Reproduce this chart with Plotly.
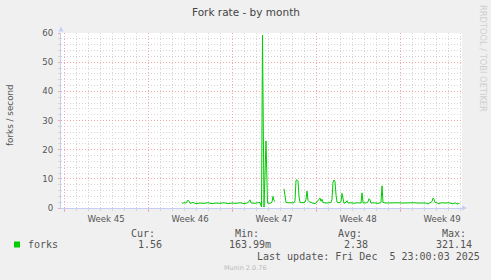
import plotly.graph_objects as go

# ---- data ----
times = [
    "2025-11-12 20:00", "2025-11-13 00:00", "2025-11-13 04:00", "2025-11-13 08:00", "2025-11-13 10:00",
    "2025-11-13 12:00", "2025-11-13 18:00", "2025-11-14 00:00", "2025-11-14 08:00", "2025-11-14 16:00",
    "2025-11-15 00:00", "2025-11-15 08:00", "2025-11-15 16:00", "2025-11-16 00:00", "2025-11-16 08:00",
    "2025-11-16 16:00", "2025-11-17 00:00", "2025-11-17 08:00", "2025-11-17 16:00", "2025-11-18 00:00",
    "2025-11-18 06:00", "2025-11-18 10:00", "2025-11-18 12:00", "2025-11-18 14:00", "2025-11-18 20:00",
    "2025-11-19 02:00", "2025-11-19 08:00", "2025-11-19 11:00", "2025-11-19 13:00", "2025-11-19 16:00",
    "2025-11-19 20:00", "2025-11-19 23:00", "2025-11-20 04:00", "2025-11-20 08:00", "2025-11-20 10:00",
    "2025-11-20 12:00", "2025-11-20 14:00", "2025-11-20 20:00",
    "2025-11-21 08:00", "2025-11-21 12:00", "2025-11-21 16:00", "2025-11-21 22:00", "2025-11-22 04:00",
    "2025-11-22 06:00", "2025-11-22 08:00", "2025-11-22 10:00", "2025-11-22 12:00", "2025-11-22 14:00",
    "2025-11-22 16:00", "2025-11-22 22:00", "2025-11-23 02:00", "2025-11-23 04:00", "2025-11-23 06:00",
    "2025-11-23 08:00", "2025-11-23 10:00", "2025-11-23 14:00", "2025-11-23 20:00", "2025-11-24 00:00",
    "2025-11-24 04:00", "2025-11-24 06:00", "2025-11-24 08:00", "2025-11-24 10:00", "2025-11-24 12:00",
    "2025-11-24 14:00", "2025-11-24 20:00", "2025-11-25 02:00", "2025-11-25 06:00", "2025-11-25 08:00",
    "2025-11-25 10:00", "2025-11-25 12:00", "2025-11-25 14:00", "2025-11-25 16:00", "2025-11-25 18:00",
    "2025-11-25 22:00", "2025-11-26 02:00", "2025-11-26 04:00", "2025-11-26 06:00", "2025-11-26 08:00",
    "2025-11-26 12:00", "2025-11-26 14:00", "2025-11-26 16:00", "2025-11-26 22:00", "2025-11-27 04:00",
    "2025-11-27 10:00", "2025-11-27 18:00", "2025-11-27 20:00", "2025-11-27 22:00", "2025-11-28 04:00",
    "2025-11-28 08:00", "2025-11-28 10:00", "2025-11-28 12:00", "2025-11-28 14:00", "2025-11-28 20:00",
    "2025-11-29 02:00", "2025-11-29 08:00", "2025-11-29 10:00", "2025-11-29 12:00", "2025-11-29 14:00",
    "2025-11-29 20:00", "2025-11-30 04:00", "2025-11-30 12:00", "2025-11-30 20:00", "2025-12-01 04:00",
    "2025-12-01 12:00", "2025-12-01 20:00", "2025-12-02 04:00", "2025-12-02 12:00", "2025-12-02 20:00",
    "2025-12-03 04:00", "2025-12-03 08:00", "2025-12-03 12:00", "2025-12-03 16:00", "2025-12-03 18:00",
    "2025-12-03 20:00", "2025-12-03 22:00", "2025-12-04 02:00", "2025-12-04 06:00", "2025-12-04 10:00",
    "2025-12-04 18:00", "2025-12-05 02:00", "2025-12-05 10:00", "2025-12-05 14:00", "2025-12-05 18:00",
    "2025-12-05 23:00",
]
forks = [
    1.6, 1.8, 1.7, 2.7, 2.3,
    1.6, 1.9, 1.5, 1.7, 1.6,
    1.8, 1.5, 1.7, 1.6, 1.8,
    1.5, 1.7, 1.6, 1.8, 1.5,
    1.7, 2.2, 2.8, 1.8, 1.6,
    1.7, 1.9, 0.4, 59.3, 0.3,
    23.0, 1.7, 1.6, 2.0, 4.0,
    2.6, 2.3, None,
    6.6, 1.9, 1.8, 1.9, 1.8,
    2.5, 9.5, 9.7, 9.3, 4.0,
    1.9, 1.8, 2.0, 3.0, 5.8,
    2.6, 2.2, 1.9, 1.5, 1.7,
    2.4, 2.8, 3.4, 2.3, 3.0,
    1.9, 1.7, 1.8, 1.9, 3.0,
    8.8, 9.6, 9.0, 4.5, 2.0,
    1.8, 2.2, 5.0, 2.3, 1.6,
    2.0, 2.5, 1.7, 1.8, 1.6,
    1.8, 1.7, 5.2, 1.8, 1.7,
    2.1, 3.2, 2.8, 1.7, 1.8,
    1.6, 1.7, 1.9, 7.6, 1.9,
    1.7, 1.8, 1.7, 1.8, 1.7,
    1.8, 1.7, 1.8, 1.7, 1.8,
    1.7, 1.4, 1.8, 2.2, 3.4,
    3.0, 1.9, 1.8, 1.4, 1.8,
    1.7, 1.8, 1.4, 1.8, 1.4,
    1.56,
]
x_range = ["2025-11-02 18:00", "2025-12-06 04:00"]
week_tick0 = "2025-11-03"
y_range = [0, 60]
title_text = "Fork rate - by month"
y_label = "forks / second"
series_name = "forks"
legend_headers = ["Cur:", "Min:", "Avg:", "Max:"]
legend_values = ["1.56", "163.99m", "2.38", "321.14"]
last_update = "Last update: Fri Dec&nbsp;&nbsp;5 23:00:03 2025"
footer = "Munin 2.0.76"
watermark = "RRDTOOL / TOBI OETIKER"

# ---- layout geometry (pixels) ----
W, H = 491, 280
L, R, T, B = 61, 462, 33, 208
def px(x): return (x - L) / (R - L)
def py(y): return (B - y) / (B - T)

GREEN = "#00cc00"
AXIS = "#c8cdf6"
GRID = "#d6d6d6"
MGRID = "#f2a8a8"
TXT = "#555555"
SANS = "DejaVu Sans"
MONO = "DejaVu Sans Mono"
DAY = 86400000

fig = go.Figure()
fig.add_trace(go.Scatter(x=times, y=forks, mode="lines", connectgaps=False,
                         line=dict(color=GREEN, width=1), hoverinfo="skip", showlegend=False))

fig.update_layout(
    width=W, height=H, margin=dict(l=L, r=W - R, t=T, b=H - B),
    paper_bgcolor="#f0f0f0", plot_bgcolor="#ffffff", showlegend=False,
    xaxis=dict(type="date", range=x_range, tick0=week_tick0, dtick=7 * DAY,
               tickformat="Week %V", ticklabelmode="period",
               showgrid=True, gridcolor=MGRID, griddash="1px,2px", gridwidth=1,
               ticks="outside", ticklen=3, tickcolor=MGRID,
               minor=dict(dtick=DAY, tick0=week_tick0, showgrid=True, gridcolor=GRID,
                          griddash="1px,2px", ticks="outside", ticklen=2, tickcolor=GRID),
               showline=True, linecolor=AXIS, linewidth=1, zeroline=False,
               tickfont=dict(family=SANS, size=8.6, color=TXT), fixedrange=True),
    yaxis=dict(range=y_range, dtick=10, tick0=0,
               showgrid=True, gridcolor=MGRID, griddash="1px,2px", gridwidth=1,
               ticks="outside", ticklen=2, tickcolor=MGRID,
               minor=dict(dtick=2, showgrid=True, gridcolor=GRID, griddash="1px,2px",
                          ticks="outside", ticklen=2, tickcolor=GRID),
               showline=True, linecolor=AXIS, linewidth=1, zeroline=False,
               ticklabelstandoff=3,
               tickfont=dict(family=SANS, size=8.6, color=TXT), fixedrange=True),
)

ann = []
def text(x, y, s, size, color=TXT, family=SANS, xanchor="left", angle=0):
    ann.append(dict(x=px(x), y=py(y), xref="paper", yref="paper", text=s, showarrow=False,
                    xanchor=xanchor, yanchor="middle", textangle=angle, borderpad=0,
                    font=dict(family=family, size=size, color=color)))

text(245.5, 12, title_text, 10.5, color="#444444", xanchor="center")
text(10, 115, y_label, 8.8, xanchor="center", angle=-90)
text(483.5, 58.5, watermark, 8.3, color="#cfcfcf", xanchor="center", angle=90)
hx = [130, 234, 337.3, 441]
vx = [136.7, 228.3, 343.3, 435]
for i in range(4):
    text(hx[i], 233.3, legend_headers[i], 10, family=MONO)
    text(vx[i], 244.3, legend_values[i], 10, family=MONO)
text(26.7, 244.3, series_name, 10, family=MONO)
text(255.7, 256, last_update, 10, family=MONO)
text(245, 268.3, footer, 6.5, color="#bbbbbb", xanchor="center")
fig.update_layout(annotations=ann)

shapes = [
    dict(type="rect", xref="paper", yref="paper", x0=px(14), x1=px(20), y0=py(247.5), y1=py(241.5),
         fillcolor=GREEN, line=dict(width=0)),
    dict(type="path", xref="paper", yref="paper",
         path=f"M {px(58.5)},{py(31.5)} L {px(63.5)},{py(31.5)} L {px(61)},{py(26.5)} Z",
         fillcolor=AXIS, line=dict(width=0)),
    dict(type="path", xref="paper", yref="paper",
         path=f"M {px(462)},{py(205.5)} L {px(462)},{py(210.5)} L {px(467)},{py(208)} Z",
         fillcolor=AXIS, line=dict(width=0)),
]
fig.update_layout(shapes=shapes)

fig.write_html("out.html", config={"displayModeBar": False})
